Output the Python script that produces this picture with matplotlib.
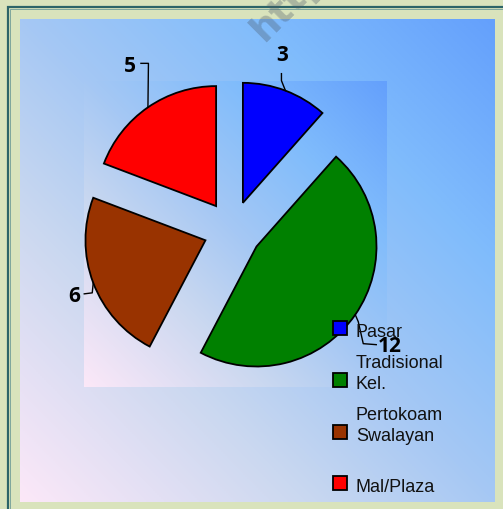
import numpy as np
import matplotlib
matplotlib.use('Agg')
import matplotlib.pyplot as plt
from matplotlib.colors import LinearSegmentedColormap
from matplotlib.patches import Rectangle

# ---- data ----
categories = ["Pasar Tradisional", "Kel. Pertokoam", "Swalayan", "Mal/Plaza"]
values = [3, 12, 6, 5]
colors = ["#0000ff", "#008000", "#993300", "#ff0000"]
value_labels = ["3", "12", "6", "5"]

W, H = 503, 510
fig = plt.figure(figsize=(W / 100, H / 100), dpi=100)
fig.patch.set_facecolor('#d9e3bc')

# background axes in pixel coordinates
bg = fig.add_axes([0, 0, 1, 1], zorder=0)
bg.axis('off')

grad = LinearSegmentedColormap.from_list(
    'g', [(0, '#fce8f8'), (0.3, '#cad8f0'), (0.5, '#a6c8f4'),
          (0.75, '#80bcfc'), (1, '#64a0fc')])


def gradient_box(ax, x0, y0, x1, y1, z):
    n = 256
    xs = np.linspace(0, 1, n)
    ys = np.linspace(1, 0, n)
    X, Y = np.meshgrid(xs, ys)
    T = (X + Y) / 2
    ax.imshow(T, cmap=grad, vmin=0, vmax=1, extent=(x0, x1, y1, y0),
              aspect='auto', zorder=z, interpolation='bilinear')


gradient_box(bg, 20, 20, 495, 503, 1)
gradient_box(bg, 84, 82, 387, 388, 2)
bg.plot([8.3, 8.3, 700], [700, 8.3, 8.3], color='#2c6468', lw=1.6, zorder=3,
        solid_joinstyle='miter')
bg.plot([10.0, 10.0, 700], [700, 10.0, 10.0], color='#6f9c98', lw=0.6, zorder=3)
bg.text(244, 40, "http", rotation=45, fontsize=27, fontweight='bold',
        color='#4a5868', alpha=0.33, ha='left', va='baseline', zorder=4,
        family='DejaVu Sans')
bg.set_xlim(0, W)
bg.set_ylim(H, 0)

# pie axes
cx, cy, R = 232.6, 231.0, 120.0
half = 150.0
pax = fig.add_axes([(cx - half) / W, 1 - (cy + half) / H, 2 * half / W, 2 * half / H],
                   zorder=2)
wedges, _ = pax.pie(values, colors=colors, startangle=90, counterclock=False,
                    explode=[0.242] * len(values), radius=1.0,
                    wedgeprops=dict(edgecolor='black', linewidth=1.3))
pax.set_xlim(-half / R, half / R)
pax.set_ylim(-half / R, half / R)
pax.set_aspect('equal')
pax.axis('off')

# overlay axes (pixel coordinates) for labels and legend
ov = fig.add_axes([0, 0, 1, 1], zorder=3)
ov.set_xlim(0, W)
ov.set_ylim(H, 0)
ov.axis('off')
ov.patch.set_alpha(0)

fig.canvas.draw()
# leader geometry (pixel offsets from the arc midpoint), label offsets
leaders = [
    [(0, 0), (-4, -10), (-4, -17)],
    [(0, 0), (3, 7), (8, 29), (21, 30)],
    [(0, 0), (-1, 10), (-9, 11)],
    [(0, 0), (0.5, -44), (-7, -44)],
]
label_off = [(-3, -36), (34, 31), (-19, 13), (-18, -41.5)]

for w, lab, ld, lo in zip(wedges, value_labels, leaders, label_off):
    th = np.deg2rad((w.theta1 + w.theta2) / 2)
    x = w.center[0] + w.r * np.cos(th)
    y = w.center[1] + w.r * np.sin(th)
    dx, dy = pax.transData.transform((x, y))
    px, py = dx, H - dy
    ov.plot([px + a for a, b in ld], [py + b for a, b in ld], color='black',
            lw=1.0, zorder=5)
    ov.text(px + lo[0], py + lo[1], lab, ha='center', va='center', fontsize=15,
            fontweight='bold', family='Open Sans', color='black', zorder=6)

# legend
for i, (cat, col) in enumerate(zip(categories, colors)):
    my = 329 + 51.8 * i
    ov.add_patch(Rectangle((333, my - 7), 14, 14, facecolor=col, edgecolor='black',
                           lw=1.3, zorder=7))
    lines = cat.split(' ', 1)
    for k, ln in enumerate(lines):
        ov.text(356, my + 8 + 31 * k, ln, fontsize=13, family='Liberation Sans',
                ha='left', va='baseline', color='#111111', zorder=8)

fig.savefig('out.png', dpi=100, facecolor=fig.get_facecolor())
